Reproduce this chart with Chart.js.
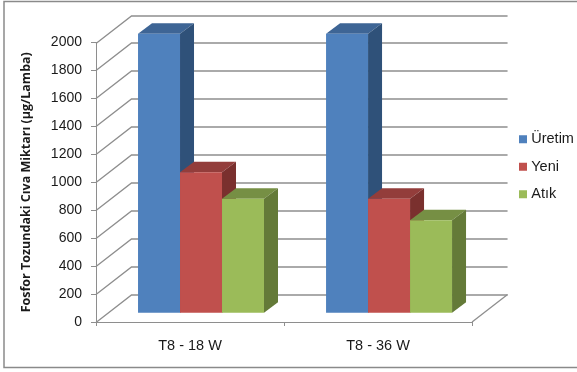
<!DOCTYPE html>
<html><head><meta charset="utf-8">
<style>html,body{margin:0;padding:0;background:#fff}#w{width:577px;height:372px;position:relative}canvas{display:block}</style>
<script src="https://cdn.jsdelivr.net/npm/chart.js@4"></script>
</head><body><div id="w"><canvas id="c" width="577" height="372"></canvas></div>
<script>
const categories = ['T8 - 18 W', 'T8 - 36 W'];
const uretim = [2000, 2000];
const yeni = [1010, 820];
const atik = [820, 665];
const seriesNames = ['Üretim', 'Yeni', 'Atık'];
const yTitle = 'Fosfor Tozundaki Cıva Miktarı (µg/Lamba)';

const FONT = '"Liberation Sans"';
const TITLE_FONT = '"Open Sans"';
const TEXT = '#1a1a1a';
const GRID = '#8e8e8e';
const WALL = {dx: 35.5, dy: -27.5};
const BAR_SHIFT = {dx: 11, dy: -8.7};
const BAR_DEPTH = {dx: 14, dy: -10.5};
const faces = [
  {front: '#4F81BD', top: '#3E6595', side: '#2F5179'},
  {front: '#C0504D', top: '#933D3B', side: '#7A302E'},
  {front: '#9BBB59', top: '#768F44', side: '#647A38'}
];

function poly(ctx, pts, fill) {
  ctx.beginPath();
  pts.forEach((p, i) => i ? ctx.lineTo(p[0], p[1]) : ctx.moveTo(p[0], p[1]));
  ctx.closePath();
  ctx.fillStyle = fill;
  ctx.fill();
}

const scene = {
  id: 'scene',
  beforeDraw(chart) {
    const {ctx} = chart;
    const {left, right, bottom} = chart.chartArea;
    const y = chart.scales.y;
    ctx.save();
    // outer frame
    ctx.strokeStyle = '#8a8a8a';
    ctx.lineWidth = 1.5;
    ctx.strokeRect(4, 1.5, 590, 366);
    // back wall and side wall gridlines
    ctx.strokeStyle = GRID;
    ctx.lineWidth = 1.3;
    y.ticks.forEach(t => {
      const py = Math.round(y.getPixelForValue(t.value)) + 0.5;
      ctx.beginPath();
      ctx.moveTo(left, py);
      ctx.lineTo(left + WALL.dx, py + WALL.dy);
      ctx.lineTo(right + WALL.dx, py + WALL.dy);
      ctx.stroke();
    });
    // floor right edge
    ctx.beginPath();
    ctx.moveTo(right, bottom);
    ctx.lineTo(right + WALL.dx, bottom + WALL.dy);
    ctx.stroke();
    ctx.restore();
  },
  afterLayout(chart) {
    const lg = chart.legend;
    if (!lg) return;
    const p = lg.options.labels.padding;
    lg.left = 522 - p;
    lg.top = 132 - p;
    lg.right = lg.left + lg.width;
    lg.bottom = lg.top + lg.height;
  },
  // the library would paint the series last-first; the 3D stacking needs first-last
  beforeDatasetDraw() { return false; },
  afterDatasetsDraw(chart) {
    const {ctx} = chart;
    ctx.save();
    ctx.translate(BAR_SHIFT.dx, BAR_SHIFT.dy);
    chart.data.datasets.forEach((ds, i) => {
      const meta = chart.getDatasetMeta(i);
      const f = faces[i];
      meta.data.forEach(b => {
        const l = b.x - b.width / 2, r = b.x + b.width / 2, t = b.y, u = b.base;
        const dx = BAR_DEPTH.dx, dy = BAR_DEPTH.dy;
        poly(ctx, [[l, t], [r, t], [r + dx, t + dy], [l + dx, t + dy]], f.top);
        poly(ctx, [[r, t], [r + dx, t + dy], [r + dx, u + dy], [r, u]], f.side);
      });
      meta.controller.draw();
    });
    ctx.restore();
  }
};

new Chart(document.getElementById('c'), {
  type: 'bar',
  data: {
    labels: categories,
    datasets: [
      {label: seriesNames[0], data: uretim, backgroundColor: faces[0].front, clip: false},
      {label: seriesNames[1], data: yeni, backgroundColor: faces[1].front, clip: false},
      {label: seriesNames[2], data: atik, backgroundColor: faces[2].front, clip: false}
    ]
  },
  plugins: [scene],
  options: {
    responsive: false,
    animation: false,
    layout: {padding: {left: 19, top: 42.5, right: 30, bottom: 0}},
    datasets: {bar: {barPercentage: 1, categoryPercentage: 0.67}},
    plugins: {
      tooltip: {enabled: false},
      legend: {
        position: 'right',
        align: 'start',
        labels: {
          usePointStyle: true, pointStyle: 'rect',
          boxWidth: 2, boxHeight: 8, padding: 13, color: TEXT,
          font: {family: FONT, size: 14.5}
        }
      }
    },
    scales: {
      x: {
        grid: {display: true, drawOnChartArea: false, drawTicks: true, tickLength: 4, color: GRID, offset: true},
        border: {display: true, color: GRID},
        ticks: {color: TEXT, padding: 11, maxRotation: 0, font: {family: FONT, size: 14.5}},
        afterFit(s) { s.height = 50; }
      },
      y: {
        min: 0, max: 2000,
        grid: {display: true, drawOnChartArea: false, drawTicks: true, tickLength: 5, color: GRID},
        border: {display: true, color: GRID},
        ticks: {stepSize: 200, color: TEXT, padding: 9, font: {family: FONT, size: 14}, callback: v => String(v)},
        title: {display: true, text: yTitle, color: TEXT, padding: 0, font: {family: TITLE_FONT, size: 12.5, weight: 'bold'}},
        afterFit(s) { s.width = 77; }
      }
    }
  }
});
</script></body></html>
